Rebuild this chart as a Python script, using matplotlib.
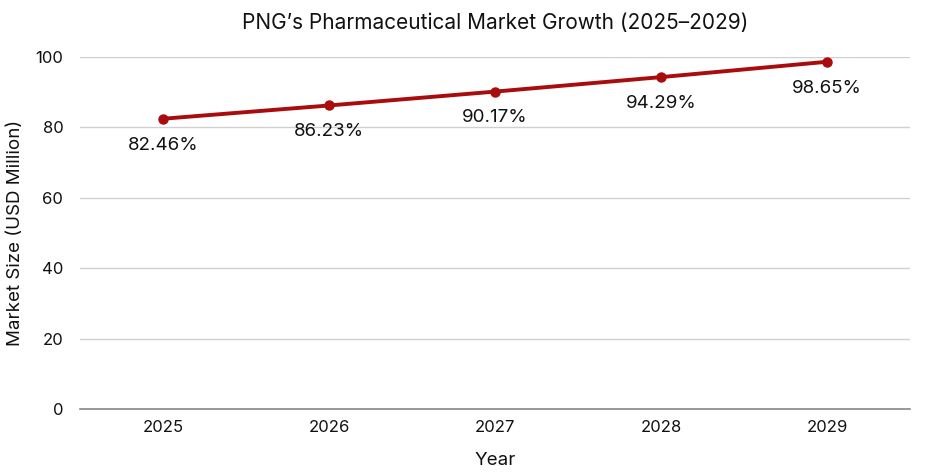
import matplotlib.pyplot as plt

plt.rcParams['font.family'] = ['Inter', 'DejaVu Sans']

# Data
years = ['2025', '2026', '2027', '2028', '2029']
market_size = [82.46, 86.23, 90.17, 94.29, 98.65]
point_labels = ['82.46%', '86.23%', '90.17%', '94.29%', '98.65%']

fig = plt.figure(figsize=(9.25, 4.75), dpi=100)
ax = fig.add_axes([0.0865, 0.139, 0.8975, 0.741])

x = list(range(len(years)))
ax.plot(x, market_size, color='#A80C0C', linewidth=2.8, marker='o', markersize=6.5, zorder=3)

for xi, yi, lab in zip(x, market_size, point_labels):
    ax.annotate(lab, (xi, yi), xytext=(0, -19), textcoords='offset points',
                ha='center', va='center', fontsize=13.5, color='#111111')

ax.set_xlim(-0.5, 4.5)
ax.set_ylim(0, 100)
ax.set_xticks(x)
ax.set_xticklabels(years)
ax.set_yticks([0, 20, 40, 60, 80, 100])
ax.tick_params(axis='both', length=0, labelsize=12, colors='#111111')
ax.tick_params(axis='x', pad=8)
ax.tick_params(axis='y', pad=12)

ax.grid(axis='y', color='#d0d0d0', linewidth=1)
ax.set_axisbelow(True)
for side in ['top', 'right', 'left']:
    ax.spines[side].set_visible(False)
ax.spines['bottom'].set_color('#888888')
ax.spines['bottom'].set_linewidth(1.2)

ax.set_xlabel('Year', fontsize=13.5, labelpad=12, color='#111111')
ax.set_ylabel('Market Size (USD Million)', fontsize=13.5, labelpad=8, color='#111111')
ax.set_title('PNG\u2019s Pharmaceutical Market Growth (2025\u20132029)', fontsize=15, pad=20, color='#111111')

fig.savefig('out.png', dpi=100)
